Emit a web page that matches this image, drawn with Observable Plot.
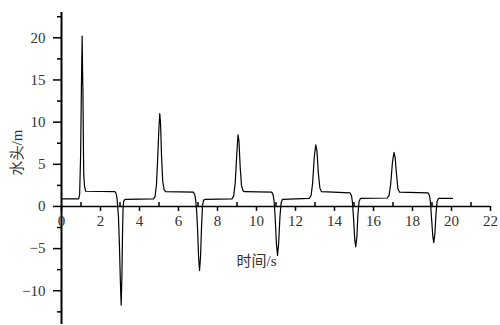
<!DOCTYPE html>
<html><head><meta charset="utf-8">
<script src="https://cdn.jsdelivr.net/npm/d3@7"></script>
<script src="https://cdn.jsdelivr.net/npm/@observablehq/plot@0.6"></script>
<style>body{margin:0;background:#fff} svg{display:block}</style>
</head><body><div id="chart"></div>
<script>
// Time (s) and head (m)
const times = [0,0.88,0.93,0.98,1.02,1.06,1.08,1.1,1.12,1.14,1.18,1.24,2.74,2.8,2.85,2.88,2.92,2.97,3.02,3.06,3.1,3.13,3.16,3.2,3.28,
  4.72,4.8,4.87,4.93,4.99,5.04,5.08,5.13,5.19,5.26,5.34,6.76,6.83,6.88,6.93,6.98,7.03,7.08,7.13,7.18,7.23,7.29,7.38,
  8.74,8.83,8.91,8.98,9.05,9.1,9.16,9.23,9.31,9.4,10.78,10.85,10.9,10.96,11.02,11.08,11.14,11.2,11.26,11.33,
  12.7,12.8,12.88,12.96,13.04,13.1,13.17,13.25,13.33,14.8,14.87,14.92,14.98,15.04,15.09,15.15,15.2,15.26,15.33,
  16.7,16.8,16.88,16.97,17.05,17.11,17.18,17.25,17.33,18.8,18.87,18.92,18.98,19.04,19.09,19.15,19.2,19.26,19.33,20.05];
const heads = [0.9,0.9,1.4,6,14,20.2,16,13.5,8,3.8,2.4,1.8,1.75,1.55,0.9,0,-1.2,-4.5,-9,-11.7,-8,-3,0,0.7,0.85,
  0.9,1.2,2.6,5.5,9,11.0,9.8,6,3,2,1.75,1.7,1.45,0.8,-0.5,-2.8,-6,-7.6,-6,-2.5,0.1,0.75,0.85,
  0.9,1.25,2.8,5.8,8.5,7.8,4.8,2.5,1.85,1.75,1.7,1.4,0.7,-1.4,-4.4,-5.8,-4.2,-1.3,0.4,0.85,
  0.95,1.3,2.8,5.8,7.3,6.6,4,2.2,1.75,1.6,1.3,0.5,-1.5,-4,-4.8,-3.5,-1,0.6,0.95,
  1.0,1.3,2.6,5.2,6.4,5.8,3.8,2.1,1.7,1.6,1.3,0.5,-1.5,-3.5,-4.3,-3.2,-1,0.6,0.95,0.95];

const xMajorTicks = [0,2,4,6,8,10,12,14,16,18,20,22];
const xMinorTicks = [1,3,5,7,9,11,13,15,17,19,21];
const yMajorTicks = [-10,-5,0,5,10,15,20];
const yTickLabels = ["−10","−5","0","5","10","15","20"];
const yMinorTicks = [-12.5,-7.5,-2.5,2.5,7.5,12.5,17.5,22.5];
const xTitle = "时间/s";
const yTitle = "水头/m";

const series = times.map((t, i) => ({t, h: heads[i]}));
const font = "'Times New Roman', 'Liberation Serif', 'DejaVu Serif', 'Noto Sans CJK SC', serif";

const chart = Plot.plot({
  width: 500, height: 325,
  marginLeft: 61, marginRight: 10, marginTop: 12, marginBottom: 1,
  x: {domain: [0, 22], axis: null},
  y: {domain: [-14, 23], axis: null},
  style: {background: "#fff", color: "#000"},
  marks: [
    Plot.ruleY([0], {x1: () => 0, x2: () => 22, stroke: "#000", strokeWidth: 1.6}),
    Plot.ruleX([0], {y1: () => -14, y2: () => 23, stroke: "#000", strokeWidth: 2}),
    Plot.ruleX(xMajorTicks, {x: d => d, y1: () => 0, y2: () => 0, insetBottom: -5, stroke: "#000", strokeWidth: 1.5}),
    Plot.ruleX(xMinorTicks, {x: d => d, y1: () => 0, y2: () => 0, insetTop: -4, stroke: "#000", strokeWidth: 1.5}),
    Plot.ruleY(yMajorTicks, {y: d => d, x1: () => 0, x2: () => 0, insetLeft: -8, stroke: "#000", strokeWidth: 1.5}),
    Plot.ruleY(yMinorTicks, {y: d => d, x1: () => 0, x2: () => 0, insetLeft: -4, stroke: "#000", strokeWidth: 1.5}),
    Plot.text(xMajorTicks, {x: d => d, y: () => 0, text: d => String(d), dy: 15, fontSize: 15, fill: "#333"}),
    Plot.text(yMajorTicks, {x: () => 0, y: d => d, text: (d, i) => yTickLabels[i], textAnchor: "end", dx: -16, fontSize: 15, fill: "#333"}),
    Plot.text([yTitle], {frameAnchor: "left", text: d => d, dx: -44, dy: 7, rotate: -90, fontSize: 15, fill: "#333"}),
    Plot.text([xTitle], {frameAnchor: "middle", text: d => d, dx: -19.5, dy: 93, fontSize: 15, fill: "#333"}),
    Plot.line(series, {x: "t", y: "h", stroke: "#000", strokeWidth: 1.2})
  ]
});
chart.querySelectorAll("text").forEach(t => t.setAttribute("font-family", font));
chart.style.fontFamily = font;
document.getElementById("chart").appendChild(chart);
</script>
</body></html>
